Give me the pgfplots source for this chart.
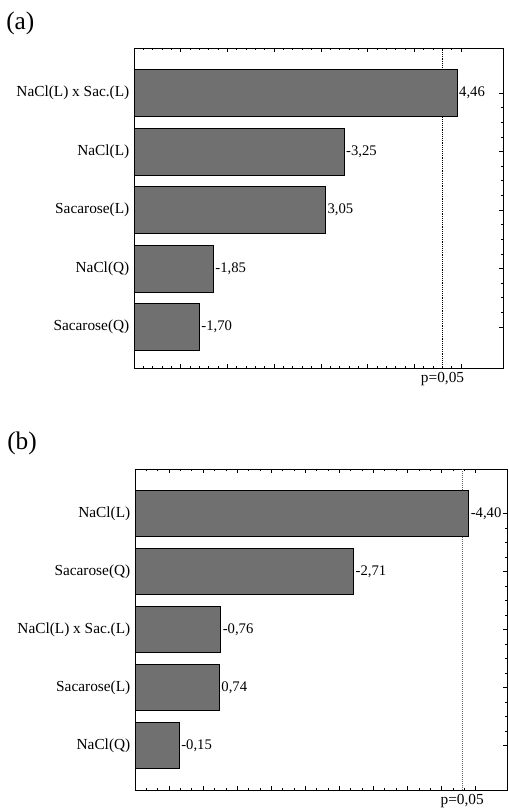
\documentclass[border=0pt]{standalone}
\usepackage{fontspec}
\setmainfont{Liberation Serif}
\usepackage{pgfplots}
\usepackage{pgfplotstable}
\pgfplotsset{compat=1.18}

% standardized effects (t values); bar length is the absolute effect
\pgfplotstableread{
pos t
4 4.46
3 -3.25
2 3.05
1 -1.85
0 -1.70
}\effectsA
\pgfplotstableread{
pos t
4 -4.40
3 -2.71
2 -0.76
1 0.74
0 -0.15
}\effectsB

\pgfplotsset{
  pareto/.style={
    scale only axis,
    xbar, bar shift=0pt, bar width=0.8,
    axis line style={black, line width=0.6pt},
    tick align=inside,
    major tick length=3pt, minor tick length=1.8pt,
    every tick/.style={black, line width=0.5pt},
    xticklabels={},
    ytick={0,...,4},
    ytick pos=right, yticklabel pos=left,
    minor y tick num=3,
    yticklabel style={font=\fontsize{11.5}{12}\selectfont, black},
    extra x tick style={grid=major,
      major grid style={black, densely dotted, line width=0.5pt},
      tick label style={font=\fontsize{11.5}{12}\selectfont},
      major tick length=0pt},
    point meta=explicit,
    nodes near coords={\pgfmathprintnumber[fixed,fixed zerofill,precision=2,use comma,assume math mode=true]{\pgfplotspointmeta}},
    every node near coord/.append style={font=\fontsize{11}{12}\selectfont, anchor=west, inner xsep=1.2pt, black},
  },
  effectbar/.style={draw=black, line width=0.6pt, fill=black!56},
}

\begin{document}
\begin{tikzpicture}
\path[use as bounding box] (0,0) rectangle (381pt,609pt);

% panel (a)
\node[anchor=west, inner sep=0pt, font=\fontsize{19}{20}\selectfont] at (4.5pt,591.75pt) {(a)};
\begin{axis}[pareto,
  at={(100.5pt,333pt)}, anchor=south west,
  width=276.75pt, height=240pt,
  % bars grow from the left edge of the axis (x = 1)
  x coord trafo/.code={\pgfmathparse{#1-1}},
  x coord inv trafo/.code={\pgfmathparse{#1+1}},
  xmin=1, xmax=4.95, ymin=-0.70, ymax=4.77,
  xtick={1,1.5,...,4.5}, minor x tick num=4,
  yticklabels={Sacarose(Q), NaCl(Q), Sacarose(L), NaCl(L), NaCl(L) x Sac.(L)},
  extra x ticks={4.303}, extra x tick labels={{p=0{,}05}}]
\addplot[effectbar] table[x expr={abs(\thisrow{t})}, y=pos, meta=t] {\effectsA};
\end{axis}

% panel (b)
\node[anchor=west, inner sep=0pt, font=\fontsize{19}{20}\selectfont] at (5.25pt,276.4pt) {(b)};
\begin{axis}[pareto,
  at={(101.25pt,16.5pt)}, anchor=south west,
  width=279pt, height=240.75pt,
  % bars grow from the left edge of the axis (x = -0.5)
  x coord trafo/.code={\pgfmathparse{#1+0.5}},
  x coord inv trafo/.code={\pgfmathparse{#1-0.5}},
  xmin=-0.5, xmax=4.96, ymin=-0.77, ymax=4.77,
  xtick={-0.5,0,...,4.5}, minor x tick num=2,
  yticklabels={NaCl(Q), Sacarose(L), NaCl(L) x Sac.(L), Sacarose(Q), NaCl(L)},
  extra x ticks={4.303}, extra x tick labels={{p=0{,}05}},
  extra x tick style={major grid style={black!60, densely dotted, line width=0.5pt}}]
\addplot[effectbar] table[x expr={abs(\thisrow{t})}, y=pos, meta=t] {\effectsB};
\end{axis}
\end{tikzpicture}
\end{document}
